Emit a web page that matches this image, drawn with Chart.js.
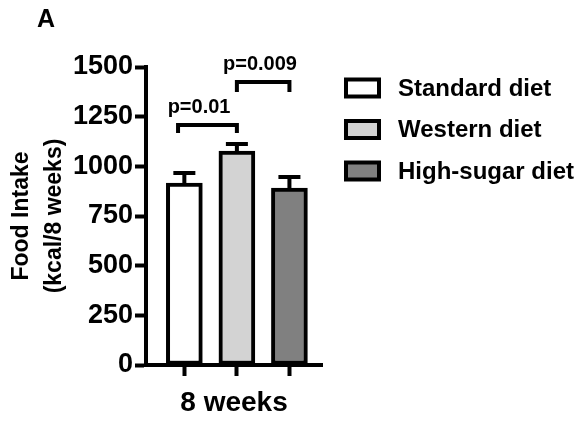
<!DOCTYPE html>
<html>
<head>
<meta charset="utf-8">
<script src="https://cdn.jsdelivr.net/npm/chart.js@4.4.1/dist/chart.umd.min.js"></script>
<style>
  html, body { margin: 0; padding: 0; background: #fff; }
  canvas { display: block; }
</style>
</head>
<body>
<canvas id="c" width="577" height="423"></canvas>
<script>
// ---- data ----
const panelLabel = 'A';
const groups = ['Standard diet', 'Western diet', 'High-sugar diet'];
const groupPos = [0, 1, 2];
const intake = [916, 1077, 891];          // kcal / 8 weeks (mean)
const sem = [50, 35, 55];                 // error bar (SEM)
const fills = ['#ffffff', '#d3d3d3', '#808080'];
const yTicks = [0, 250, 500, 750, 1000, 1250, 1500];
const yTickLabels = ['0', '250', '500', '750', '1000', '1250', '1500'];
const xTitle = '8 weeks';
const yTitle = ['Food Intake', '(kcal/8 weeks)'];

// significance brackets
const pLabels = ['p=0.01', 'p=0.009'];
const pFrom = [-0.12, 1];
const pTo = [1, 2];
const pBarY = [1208, 1424];
const pLegY = [1168, 1374];
const pTextX = [0.28, 1.44];

const FONT = "'Liberation Sans', Arial, Helvetica, sans-serif";

const errorBars = {
  id: 'errorBars',
  afterDatasetsDraw(chart) {
    const { ctx, scales: { x, y } } = chart;
    ctx.save();
    ctx.strokeStyle = '#000';
    ctx.lineWidth = 4;
    ctx.lineCap = 'butt';
    intake.forEach((v, i) => {
      const px = x.getPixelForValue(groupPos[i]);
      const base = y.getPixelForValue(v);
      const top = y.getPixelForValue(v + sem[i]);
      ctx.beginPath();
      ctx.moveTo(px, base);
      ctx.lineTo(px, top);
      ctx.moveTo(px - 11, top);
      ctx.lineTo(px + 11, top);
      ctx.stroke();
    });
    // brackets with p-values
    ctx.lineJoin = 'miter';
    ctx.fillStyle = '#000';
    ctx.font = `bold 20px ${FONT}`;
    ctx.textAlign = 'center';
    ctx.textBaseline = 'alphabetic';
    pLabels.forEach((lab, i) => {
      const x1 = x.getPixelForValue(pFrom[i]);
      const x2 = x.getPixelForValue(pTo[i]);
      const yb = y.getPixelForValue(pBarY[i]);
      const yl = y.getPixelForValue(pLegY[i]);
      ctx.beginPath();
      ctx.moveTo(x1, yl);
      ctx.lineTo(x1, yb);
      ctx.lineTo(x2, yb);
      ctx.lineTo(x2, yl);
      ctx.stroke();
      ctx.fillText(lab, x.getPixelForValue(pTextX[i]), yb - 12);
    });
    ctx.restore();
  }
};

const decorations = {
  id: 'decorations',
  afterDraw(chart) {
    const { ctx } = chart;
    ctx.save();
    // panel letter
    ctx.fillStyle = '#000';
    ctx.font = `bold 25px ${FONT}`;
    ctx.textAlign = 'left';
    ctx.textBaseline = 'alphabetic';
    ctx.fillText(panelLabel, 37, 27);
    // legend
    ctx.font = `bold 24px ${FONT}`;
    ctx.textBaseline = 'middle';
    groups.forEach((g, i) => {
      const cy = 88 + i * 41.5;
      const bx = 344, bw = 37, bh = 21, b = 4;
      ctx.fillStyle = '#000';
      ctx.fillRect(bx, cy - bh / 2, bw, bh);
      ctx.fillStyle = fills[i];
      ctx.fillRect(bx + b, cy - bh / 2 + b, bw - 2 * b, bh - 2 * b);
      ctx.fillStyle = '#000';
      ctx.fillText(g, 398, cy + 1);
    });
    ctx.restore();
  }
};

new Chart(document.getElementById('c'), {
  type: 'bar',
  data: {
    datasets: [{
      label: 'Food intake',
      data: groupPos.map((p, i) => ({ x: p, y: intake[i] })),
      backgroundColor: fills,
      borderColor: '#000',
      borderWidth: 4,
      borderSkipped: false,
      barThickness: 36
    }]
  },
  options: {
    responsive: false,
    animation: false,
    devicePixelRatio: 1,
    layout: { padding: { top: 67, right: 255, bottom: 0, left: 0 } },
    plugins: { legend: { display: false }, tooltip: { enabled: false } },
    scales: {
      x: {
        type: 'linear',
        offset: false,
        min: -0.73,
        max: 2.62,
        afterBuildTicks: s => { s.ticks = groupPos.map(v => ({ value: v })); },
        afterFit: s => { s.height = 58; },
        ticks: { display: false },
        grid: { offset: false, drawOnChartArea: false, drawTicks: true, tickLength: 11, tickWidth: 4, tickColor: '#000' },
        border: { display: true, color: '#000', width: 4 },
        title: {
          display: true, text: xTitle, color: '#000',
          font: { family: FONT, size: 28, weight: 'bold' },
          padding: { top: 0, bottom: 3 }
        }
      },
      y: {
        min: 0,
        max: 1500,
        afterBuildTicks: s => { s.ticks = yTicks.map(v => ({ value: v })); },
        afterFit: s => { s.width = 146; },
        ticks: {
          color: '#000', padding: 2,
          font: { family: FONT, size: 27, weight: 'bold' },
          callback: (v) => yTickLabels[yTicks.indexOf(v)]
        },
        grid: { drawOnChartArea: false, drawTicks: true, tickLength: 11, tickWidth: 4, tickColor: '#000' },
        border: { display: true, color: '#000', width: 4 },
        title: {
          display: true, text: yTitle, color: '#000',
          font: { family: FONT, size: 23, weight: 'bold', lineHeight: 1.4 },
          padding: { top: 6, bottom: 0 }
        }
      }
    }
  },
  plugins: [errorBars, decorations]
});
</script>
</body>
</html>
